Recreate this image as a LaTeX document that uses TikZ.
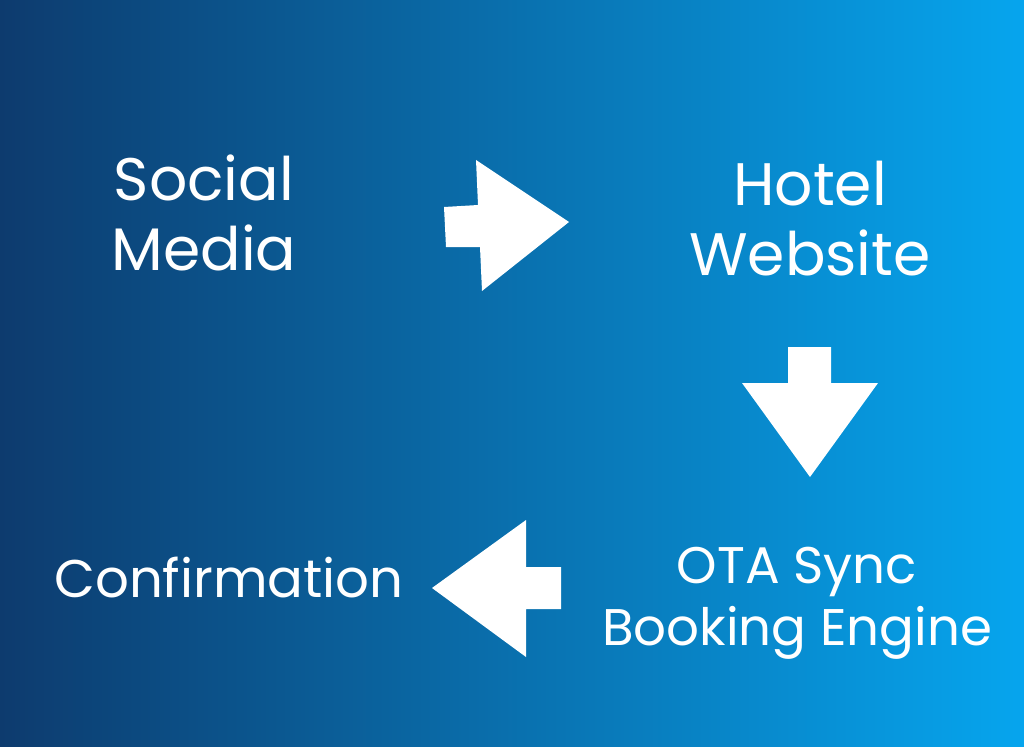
\documentclass[tikz,border=0pt]{standalone}
\usepackage{fontspec}
\setmainfont{Poppins}
\definecolor{bgleft}{HTML}{0D3B6E}
\definecolor{bgright}{HTML}{06A5EE}
\tikzset{
  bigarrow/.style={fill=white, draw=none},
  label/.style={text=white, align=center, inner sep=0pt, anchor=base},
}
\begin{document}
\begin{tikzpicture}[x=1pt, y=-1pt]
  \shade[left color=bgleft, right color=bgright, shading=axis] (0,0) rectangle (1024,746);
  \useasboundingbox (0,0) rectangle (1024,746);
  % text
  \node[label, font=\fontsize{60}{70}\selectfont] (social) at (204,270) {Social\\Media};
  \node[label, font=\fontsize{60}{70}\selectfont] (hotel) at (810,275) {Hotel\\Website};
  \node[label, font=\fontsize{51.5}{62}\selectfont] (ota) at (797,645) {OTA Sync\\Booking Engine};
  \node[label, font=\fontsize{53}{62}\selectfont] (conf) at (229,597) {Confirmation};
  % arrows
  \fill[bigarrow] (444,207) -- (478,205) -- (476,160) -- (569,222) -- (482,291) -- (480,247) -- (446,247) -- cycle;
  \fill[bigarrow] (788,347) -- (831,347) -- (831,383) -- (878,383) -- (810,477) -- (742,383) -- (788,383) -- cycle;
  \fill[bigarrow] (561,567) -- (526,567) -- (526,520) -- (432,588) -- (526,657) -- (526,609) -- (561,609) -- cycle;
\end{tikzpicture}
\end{document}
